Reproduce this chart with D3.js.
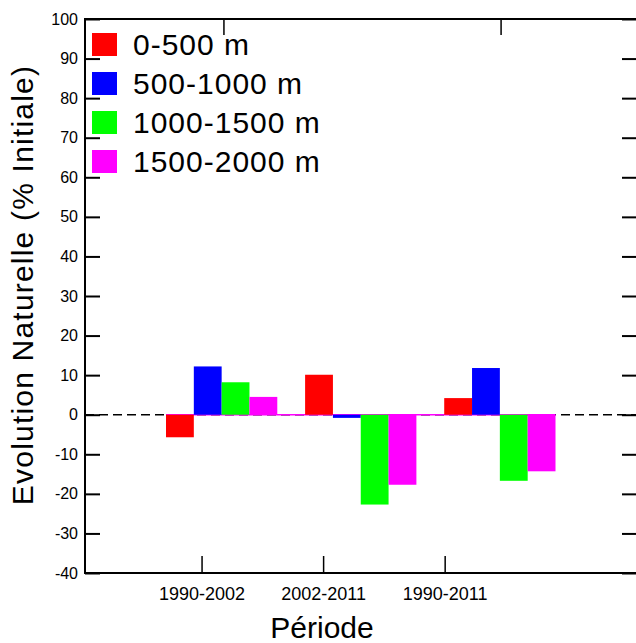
<!DOCTYPE html>
<html><head><meta charset="utf-8">
<script src="https://cdn.jsdelivr.net/npm/d3@7"></script>
<style>body{margin:0;background:#fff}svg{display:block}text{font-family:"Liberation Sans",Arial,sans-serif;fill:#000}</style>
</head><body>
<svg id="c" width="636" height="643"></svg>
<script>
const periods = ["1990-2002", "2002-2011", "1990-2011"];
const series = ["0-500 m", "500-1000 m", "1000-1500 m", "1500-2000 m"];
const colors = ["#ff0000", "#0000ff", "#00ff00", "#ff00ff"];
const v0_500 = [-5.7, 10.1, 4.2];
const v500_1000 = [12.2, -0.8, 11.8];
const v1000_1500 = [8.2, -22.7, -16.7];
const v1500_2000 = [4.5, -17.7, -14.3];
const values = [v0_500, v500_1000, v1000_1500, v1500_2000];
const yTicks = [-40, -30, -20, -10, 0, 10, 20, 30, 40, 50, 60, 70, 80, 90, 100];
const topTicks = [1.18, 3.46];

const svg = d3.select("#c");
const L = 85, R = 637, T = 19, B = 573;
const y = d3.scaleLinear().domain([-40, 100]).range([B, T]);
const xLin = d3.scaleLinear().domain([0, 4.5]).range([80, 627]);
const xBand = d3.scaleBand().domain(periods).range([166, 555.5]).paddingInner(0.2).paddingOuter(0);
const xSub = d3.scaleBand().domain(series).range([0, xBand.bandwidth()]);

// zero dashed line
svg.append("line").attr("x1", L).attr("x2", R).attr("y1", y(0)).attr("y2", y(0))
  .attr("stroke", "#000").attr("stroke-width", 1.5).attr("stroke-dasharray", "9,5");
// magenta baseline over bar span
svg.append("line").attr("x1", xBand.range()[0]).attr("x2", xBand.range()[1])
  .attr("y1", y(0)).attr("y2", y(0)).attr("stroke", colors[3]).attr("stroke-width", 1.5);

// bars
series.forEach((s, si) => {
  svg.append("g").selectAll("rect").data(periods).join("rect")
    .attr("x", (p) => xBand(p) + xSub(s))
    .attr("width", xSub.bandwidth())
    .attr("y", (p, i) => y(Math.max(0, values[si][i])))
    .attr("height", (p, i) => Math.max(1.5, Math.abs(y(values[si][i]) - y(0))))
    .attr("fill", colors[si]);
});

// axes
const ax = svg.append("g");
ax.append("g").attr("transform", `translate(${L},0)`)
  .call(d3.axisLeft(y).tickValues(yTicks).tickSizeInner(-15).tickSizeOuter(0).tickPadding(7).tickFormat(d => String(d)))
  .call(g => g.select(".domain").remove())
  .call(g => g.selectAll("line").attr("stroke-width", 2))
  .call(g => g.selectAll("text").style("font-size", "16px").attr("fill", "#000"));
ax.append("g").attr("transform", `translate(${R},0)`)
  .call(d3.axisRight(y).tickValues(yTicks).tickSizeInner(-15).tickSizeOuter(0).tickFormat(""))
  .call(g => g.select(".domain").remove())
  .call(g => g.selectAll("line").attr("stroke-width", 2));
ax.append("g").attr("transform", `translate(0,${B})`)
  .call(d3.axisBottom(xLin).tickValues([1, 2, 3]).tickSizeInner(-17).tickSizeOuter(0).tickPadding(14).tickFormat((d, i) => periods[i]))
  .call(g => g.select(".domain").remove())
  .call(g => g.selectAll("line").attr("stroke-width", 1.5))
  .call(g => g.selectAll("text").style("font-size", "18px").attr("fill", "#000"));
ax.append("g").attr("transform", `translate(0,${T})`)
  .call(d3.axisTop(xLin).tickValues(topTicks).tickSizeInner(-16).tickSizeOuter(0).tickFormat(""))
  .call(g => g.select(".domain").remove())
  .call(g => g.selectAll("line").attr("stroke-width", 1.5));

// frame
svg.append("rect").attr("x", L).attr("y", T).attr("width", R - L).attr("height", B - T)
  .attr("fill", "none").attr("stroke", "#000").attr("stroke-width", 2);

// titles
svg.append("text").attr("transform", "translate(33,285) rotate(-90)").attr("text-anchor", "middle")
  .style("font-size", "30px").style("letter-spacing", "1.2px").text("Evolution Naturelle (% Initiale)");
svg.append("text").attr("x", 322).attr("y", 638).attr("text-anchor", "middle")
  .style("font-size", "30px").text("Période");

// legend
const lg = svg.append("g");
series.forEach((s, i) => {
  lg.append("rect").attr("x", 92).attr("y", 33 + i * 39).attr("width", 25).attr("height", 23).attr("fill", colors[i]);
  lg.append("text").attr("x", 133).attr("y", 55 + i * 39).style("font-size", "30px").style("letter-spacing", "1px").text(s);
});
</script>
</body></html>
